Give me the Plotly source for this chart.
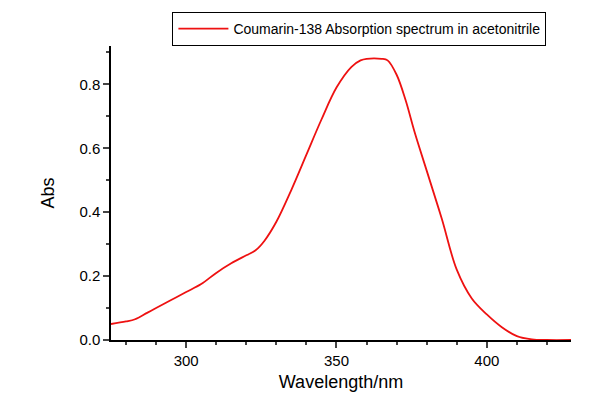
import plotly.graph_objects as go

wavelength = [275, 280, 283, 287, 290, 295, 300, 305, 310, 315, 320, 323, 326, 330, 335, 340, 345, 350, 355, 358, 360, 365, 367, 370, 373, 376, 380, 385, 390, 395, 400, 405, 410, 415, 420, 428]
absorbance = [0.05, 0.058, 0.065, 0.085, 0.10, 0.125, 0.15, 0.175, 0.21, 0.24, 0.265, 0.28, 0.31, 0.37, 0.47, 0.58, 0.69, 0.79, 0.855, 0.875, 0.88, 0.88, 0.875, 0.83, 0.75, 0.65, 0.53, 0.38, 0.22, 0.13, 0.08, 0.04, 0.012, 0.002, 0.0, 0.0]

fig = go.Figure(go.Scatter(x=wavelength, y=absorbance, mode="lines", line=dict(color="#ee1111", width=1.8, shape="spline"),
                           name="Coumarin-138 Absorption spectrum in acetonitrile"))
fig.update_layout(
    width=601, height=401, plot_bgcolor="white", paper_bgcolor="white",
    margin=dict(l=103, r=38, t=38, b=69, autoexpand=False),
    font=dict(family="Liberation Sans, Arial", color="black", size=15),
    showlegend=True,
    legend=dict(x=0.54, y=1.0, xanchor="center", yanchor="bottom", bordercolor="black", borderwidth=1,
                font=dict(size=14), itemwidth=50, tracegroupgap=0),
    xaxis=dict(range=[275, 428], tickvals=[300, 350, 400], showline=True, linecolor="black", linewidth=1.5,
               ticks="outside", ticklen=6, tickwidth=1.5, minor=dict(dtick=10, ticks="outside", ticklen=3),
               showgrid=False, zeroline=False, title=dict(text="Wavelength/nm", standoff=8)),
    yaxis=dict(range=[0, 0.92], tickvals=[0, 0.2, 0.4, 0.6, 0.8], tickformat=".1f", showline=True, linecolor="black",
               linewidth=1.5, ticks="outside", ticklen=6, tickwidth=1.5, minor=dict(dtick=0.1, ticks="outside", ticklen=3),
               showgrid=False, zeroline=False, title=dict(text="Abs", standoff=20)),
)
fig.write_html("out.html")
